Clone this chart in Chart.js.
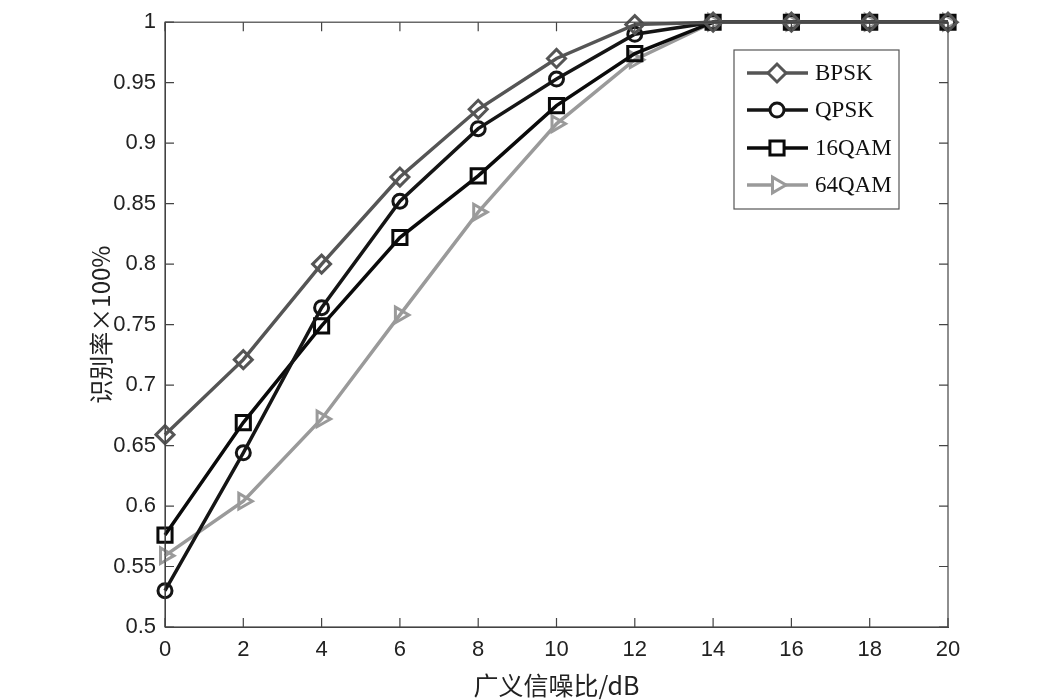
<!DOCTYPE html>
<html>
<head>
<meta charset="utf-8">
<script src="https://cdn.jsdelivr.net/npm/chart.js@4/dist/chart.umd.min.js"></script>
<style>
  html, body { margin: 0; padding: 0; background: #fff; }
  #wrap { width: 1050px; height: 700px; }
</style>
</head>
<body>
<div id="wrap"><canvas id="graph" width="1050" height="700"></canvas></div>
<script>
// snr values (dB) along the x axis
const snr = [0, 2, 4, 6, 8, 10, 12, 14, 16, 18, 20];
// recognition rate
const bpsk = [0.659, 0.721, 0.800, 0.872, 0.928, 0.970, 0.998, 1, 1, 1, 1];
const qpsk = [0.530, 0.644, 0.764, 0.852, 0.912, 0.953, 0.990, 1, 1, 1, 1];
const qam16 = [0.576, 0.669, 0.749, 0.822, 0.873, 0.931, 0.974, 1, 1, 1, 1];
const qam64 = [0.559, 0.604, 0.672, 0.758, 0.843, 0.916, 0.969, 1, 1, 1, 1];
const seriesNames = ["BPSK", "QPSK", "16QAM", "64QAM"];
const yTicks = [0.5, 0.55, 0.6, 0.65, 0.7, 0.75, 0.8, 0.85, 0.9, 0.95, 1];

const ctx = document.getElementById("graph").getContext('2d');
const tickFont = "'Liberation Sans Narrow', 'Liberation Sans', Arial, sans-serif";

function makeSet(label, data, color, style, rot, r) {
    return {
        label: label,
        data: data.map(function (v, i) { return { x: snr[i], y: v }; }),
        borderColor: color,
        borderWidth: 3.5,
        pointStyle: style,
        pointRotation: rot,
        pointRadius: r,
        pointHoverRadius: r,
        pointBorderWidth: 3,
        pointBorderColor: color,
        pointBackgroundColor: 'rgba(0,0,0,0)',
        tension: 0,
        fill: false,
        clip: false
    };
}

// inside ticks on all four sides + full box, like matlab
const boxPlugin = {
    id: 'box',
    afterDraw(chart) {
        const c = chart.ctx;
        const a = chart.chartArea;
        const xs = chart.scales.x, ys = chart.scales.y;
        c.save();
        c.strokeStyle = '#444';
        c.lineWidth = 1.2;
        c.strokeRect(a.left, a.top, a.right - a.left, a.bottom - a.top);
        c.beginPath();
        snr.forEach(function (v) {
            let px = xs.getPixelForValue(v);
            c.moveTo(px, a.bottom); c.lineTo(px, a.bottom - 9);
            c.moveTo(px, a.top); c.lineTo(px, a.top + 9);
        });
        yTicks.forEach(function (v) {
            let py = ys.getPixelForValue(v);
            c.moveTo(a.left, py); c.lineTo(a.left + 9, py);
            c.moveTo(a.right, py); c.lineTo(a.right - 9, py);
        });
        c.stroke();
        c.restore();
    }
};

// legend box sits inside the plot, top right
const legendPlugin = {
    id: 'boxLegend',
    afterDraw(chart) {
        const c = chart.ctx;
        const bx = 734, by = 50, bw = 165, bh = 159;
        const rows = [73, 110, 148, 185];
        c.save();
        c.fillStyle = '#fff';
        c.fillRect(bx, by, bw, bh);
        c.strokeStyle = '#555';
        c.lineWidth = 1.2;
        c.strokeRect(bx, by, bw, bh);
        chart.data.datasets.forEach(function (ds, i) {
            let y = rows[i];
            c.strokeStyle = ds.borderColor;
            c.lineWidth = ds.borderWidth;
            c.beginPath();
            c.moveTo(747, y); c.lineTo(808, y);
            c.stroke();
            c.fillStyle = '#fff';
            c.lineWidth = ds.pointBorderWidth;
            Chart.helpers.drawPoint(c, {
                pointStyle: ds.pointStyle,
                rotation: ds.pointRotation,
                radius: ds.pointRadius,
                borderWidth: ds.pointBorderWidth
            }, 777, y);
            c.fillStyle = '#111';
            c.font = "23px 'Liberation Serif', 'Times New Roman', serif";
            c.textAlign = 'left';
            c.textBaseline = 'middle';
            c.fillText(ds.label, 815, y + 1);
        });
        c.restore();
    }
};

const dataChart = new Chart(ctx, {
    type: 'line',
    data: {
        datasets: [
            makeSet(seriesNames[0], bpsk, '#555555', 'rectRot', 0, 9),
            makeSet(seriesNames[1], qpsk, '#151515', 'circle', 0, 7),
            makeSet(seriesNames[2], qam16, '#0a0a0a', 'rect', 0, 10),
            makeSet(seriesNames[3], qam64, '#9a9a9a', 'triangle', 90, 9)
        ]
    },
    options: {
        responsive: false,
        animation: false,
        layout: { padding: { left: 86, right: 102, top: 15, bottom: 0 } },
        plugins: {
            legend: { display: false },
            tooltip: { enabled: false }
        },
        scales: {
            x: {
                type: 'linear',
                min: 0,
                max: 20,
                afterBuildTicks: function (scale) {
                    scale.ticks = snr.map(function (v) { return { value: v }; });
                },
                grid: { display: false, drawTicks: false },
                border: { display: true, color: '#444' },
                ticks: {
                    color: '#222',
                    padding: 10,
                    font: { family: tickFont, size: 22 },
                    maxRotation: 0
                },
                title: {
                    display: true,
                    text: '广义信噪比/dB',
                    color: '#222',
                    padding: { top: 0, bottom: 0 },
                    font: { family: "'Noto Sans CJK SC', sans-serif", size: 25 }
                },
                afterFit: function (scale) { scale.height = 73; }
            },
            y: {
                min: 0.5,
                max: 1,
                afterBuildTicks: function (scale) {
                    scale.ticks = yTicks.map(function (v) { return { value: v }; });
                },
                grid: { display: false, drawTicks: false },
                border: { display: true, color: '#444' },
                ticks: {
                    color: '#222',
                    padding: 9,
                    font: { family: tickFont, size: 22 },
                    callback: function (v) { return String(Number(v.toFixed(2))); }
                },
                title: {
                    display: true,
                    text: '识别率×100%',
                    color: '#222',
                    padding: { top: 0, bottom: 0 },
                    font: { family: "'Noto Sans CJK SC', sans-serif", size: 24 }
                },
                afterFit: function (scale) { scale.width = 79; }
            }
        }
    },
    plugins: [boxPlugin, legendPlugin]
});
</script>
</body>
</html>
